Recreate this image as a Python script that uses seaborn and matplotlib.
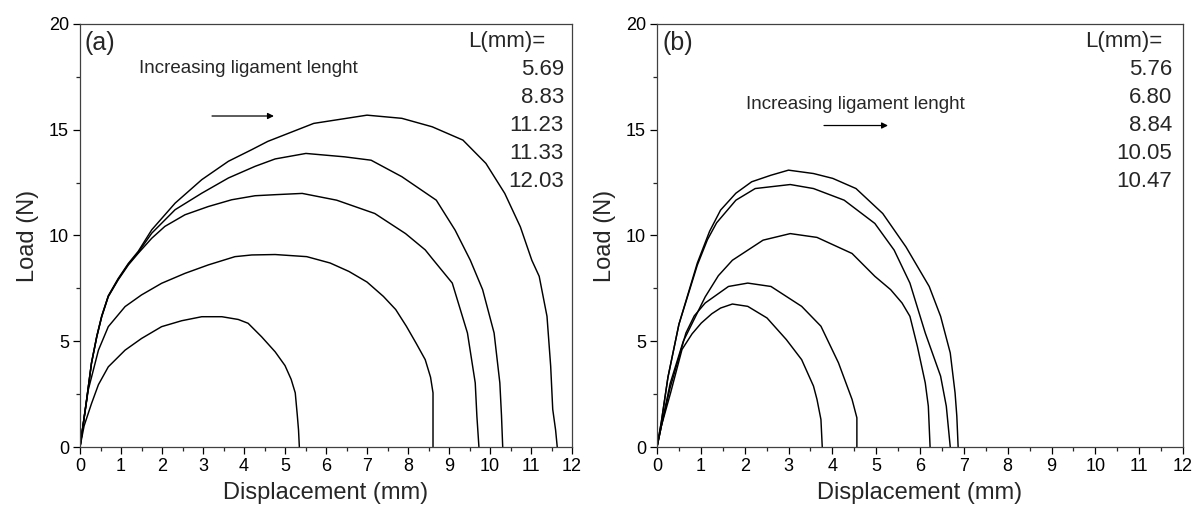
import numpy as np
import pandas as pd
import matplotlib
matplotlib.use("Agg")
import matplotlib.pyplot as plt
import seaborn as sns

# ---- panel (a) ----
len_a = ["5.69", "8.83", "11.23", "11.33", "12.03"]

x_a1 = [0, 0.1, 0.28, 0.45, 0.69, 1.1, 1.5, 1.99, 2.48, 2.97, 3.46, 3.86, 4.1, 4.43, 4.76, 5.0, 5.15, 5.25, 5.3, 5.33, 5.35]
y_a1 = [0, 1.0, 2.05, 2.95, 3.79, 4.58, 5.13, 5.69, 5.97, 6.16, 6.16, 6.03, 5.85, 5.21, 4.5, 3.85, 3.2, 2.56, 1.5, 0.8, 0]

x_a2 = [0, 0.2, 0.45, 0.69, 1.1, 1.5, 1.99, 2.56, 3.13, 3.78, 4.19, 4.76, 5.53, 6.1, 6.56, 7.0, 7.40, 7.7, 7.96, 8.2, 8.42, 8.55, 8.61, 8.61]
y_a2 = [0, 2.69, 4.58, 5.69, 6.64, 7.19, 7.74, 8.21, 8.61, 9.0, 9.08, 9.1, 9.0, 8.7, 8.3, 7.8, 7.12, 6.5, 5.71, 4.9, 4.13, 3.3, 2.56, 0]

x_a3 = [0, 0.16, 0.28, 0.41, 0.53, 0.69, 0.93, 1.18, 1.42, 1.75, 2.07, 2.56, 3.13, 3.70, 4.27, 4.76, 5.42, 6.26, 7.19, 7.94, 8.42, 8.59, 9.08, 9.45, 9.64, 9.68, 9.73]
y_a3 = [0, 2.21, 3.95, 5.21, 6.16, 7.11, 7.9, 8.61, 9.16, 9.87, 10.43, 10.98, 11.37, 11.69, 11.88, 11.93, 11.99, 11.67, 11.04, 10.09, 9.32, 8.91, 7.75, 5.39, 3.03, 1.46, 0]

x_a4 = [0, 0.16, 0.28, 0.41, 0.53, 0.69, 0.93, 1.18, 1.42, 1.75, 2.32, 2.97, 3.62, 4.27, 4.76, 5.51, 6.45, 7.10, 7.85, 8.69, 9.15, 9.52, 9.82, 10.1, 10.24, 10.28, 10.31]
y_a4 = [0, 2.21, 3.97, 5.23, 6.18, 7.13, 7.93, 8.65, 9.2, 10.11, 11.22, 12.0, 12.72, 13.27, 13.62, 13.88, 13.72, 13.56, 12.78, 11.67, 10.25, 8.83, 7.44, 5.39, 3.03, 1.5, 0]

x_a5 = [0, 0.16, 0.28, 0.41, 0.53, 0.69, 0.93, 1.18, 1.42, 1.75, 2.32, 2.97, 3.62, 4.19, 4.58, 5.70, 7.0, 7.85, 8.59, 9.34, 9.9, 10.36, 10.74, 11.02, 11.2, 11.39, 11.48, 11.53, 11.6, 11.64]
y_a5 = [0, 2.21, 3.98, 5.25, 6.2, 7.15, 7.96, 8.68, 9.25, 10.27, 11.53, 12.64, 13.51, 14.06, 14.45, 15.30, 15.69, 15.54, 15.14, 14.51, 13.41, 11.99, 10.41, 8.83, 8.07, 6.18, 3.82, 1.78, 0.8, 0]

# ---- panel (b) ----
len_b = ["5.76", "6.80", "8.84", "10.05", "10.47"]

x_b1 = [0, 0.1, 0.31, 0.57, 0.8, 1.01, 1.25, 1.45, 1.72, 2.07, 2.51, 2.95, 3.30, 3.57, 3.65, 3.74, 3.77]
y_b1 = [0, 1.0, 2.56, 4.61, 5.35, 5.86, 6.3, 6.57, 6.76, 6.65, 6.10, 5.08, 4.13, 2.88, 2.25, 1.3, 0]

x_b2 = [0, 0.1, 0.3, 0.66, 0.85, 1.10, 1.63, 2.07, 2.60, 3.30, 3.74, 4.14, 4.45, 4.56, 4.56]
y_b2 = [0, 1.0, 2.8, 5.39, 6.2, 6.81, 7.59, 7.75, 7.59, 6.65, 5.71, 3.98, 2.25, 1.38, 0]

x_b3 = [0, 0.1, 0.3, 0.6, 1.1, 1.4, 1.72, 2.42, 3.04, 3.65, 4.45, 4.97, 5.33, 5.59, 5.77, 5.94, 6.12, 6.19, 6.23]
y_b3 = [0, 1.0, 3.0, 5.0, 7.1, 8.1, 8.83, 9.78, 10.09, 9.91, 9.15, 8.07, 7.44, 6.81, 6.18, 4.76, 3.03, 1.93, 0]

x_b4 = [0, 0.1, 0.25, 0.5, 0.92, 1.15, 1.36, 1.80, 2.24, 3.04, 3.57, 4.27, 4.97, 5.41, 5.77, 6.12, 6.47, 6.60, 6.69]
y_b4 = [0, 1.2, 3.3, 5.8, 8.6, 9.8, 10.6, 11.67, 12.22, 12.41, 12.22, 11.67, 10.57, 9.31, 7.75, 5.39, 3.35, 1.93, 0]

x_b5 = [0, 0.1, 0.25, 0.5, 0.92, 1.2, 1.45, 1.8, 2.16, 2.6, 3.0, 3.57, 4.01, 4.54, 5.15, 5.68, 6.21, 6.47, 6.69, 6.80, 6.84, 6.87]
y_b5 = [0, 1.2, 3.3, 5.8, 8.7, 10.2, 11.2, 12.0, 12.54, 12.85, 13.09, 12.93, 12.70, 12.22, 11.04, 9.46, 7.59, 6.18, 4.45, 2.56, 1.46, 0]


def long_table(lengths, xs, ys):
    parts = []
    for L, x, y in zip(lengths, xs, ys):
        parts.append(pd.DataFrame({"L": L, "disp": x, "load": y}))
    return pd.concat(parts, ignore_index=True)


dati_a = long_table(len_a, [x_a1, x_a2, x_a3, x_a4, x_a5], [y_a1, y_a2, y_a3, y_a4, y_a5])
dati_b = long_table(len_b, [x_b1, x_b2, x_b3, x_b4, x_b5], [y_b1, y_b2, y_b3, y_b4, y_b5])

sns.set_style("ticks")
plt.rcParams["font.family"] = ["Liberation Sans", "DejaVu Sans"]
plt.rcParams["xtick.direction"] = "out"
plt.rcParams["ytick.direction"] = "out"

fig = plt.figure(figsize=(11.94, 5.12), dpi=100)
ax_a = fig.add_axes([80 / 1194, 65 / 512, 492 / 1194, 423 / 512])
ax_b = fig.add_axes([657 / 1194, 65 / 512, 526 / 1194, 423 / 512])

# asse, dati, lunghezze, etichetta, x etichetta, x L(mm)=, x numeri, testo, freccia
pannelli = [
    (ax_a, dati_a, len_a, "(a)", 0.12, 11.34, 11.8, (1.44, 17.9), (3.22, 4.73, 15.65)),
    (ax_b, dati_b, len_b, "(b)", 0.13, 11.52, 11.75, (2.03, 16.2), (3.81, 5.27, 15.2)),
]

for ax, dati, lengths, tag, tag_x, lmm_x, num_x, testo, freccia in pannelli:
    sns.lineplot(data=dati, x="disp", y="load", units="L", estimator=None,
                 sort=False, color="black", lw=1.05, legend=False, ax=ax)
    ax.set_xlim(0, 12)
    ax.set_ylim(0, 20)
    ax.set_xticks(range(0, 13))
    ax.set_yticks([0, 5, 10, 15, 20])
    ax.set_xticks(np.arange(0.5, 12, 1), minor=True)
    ax.set_yticks([2.5, 7.5, 12.5, 17.5], minor=True)
    ax.tick_params(which="major", length=5, width=0.9, labelsize=13, pad=3, colors="black")
    ax.tick_params(which="minor", length=3, width=0.9)
    for s in ax.spines.values():
        s.set_linewidth(0.9)
        s.set_color("0.25")
    ax.set_xlabel("Displacement (mm)", fontsize=17, labelpad=5)
    ax.set_ylabel("Load (N)", fontsize=17, labelpad=7)

    ax.text(tag_x, 19.1, tag, fontsize=18, va="center", ha="left")
    ax.text(lmm_x, 19.15, "L(mm)=", fontsize=16, va="center", ha="right")
    for i, L in enumerate(lengths):
        ax.text(num_x, 17.85 - 1.33 * i, L, fontsize=16, va="center", ha="right")

    ax.text(testo[0], testo[1], "Increasing ligament lenght", fontsize=13.5, va="center", ha="left")
    ax.annotate("", xy=(freccia[1], freccia[2]), xytext=(freccia[0], freccia[2]),
                arrowprops=dict(arrowstyle="-|>", color="black", lw=0.9,
                                mutation_scale=9, shrinkA=0, shrinkB=0))

fig.savefig("out.png", dpi=100)
